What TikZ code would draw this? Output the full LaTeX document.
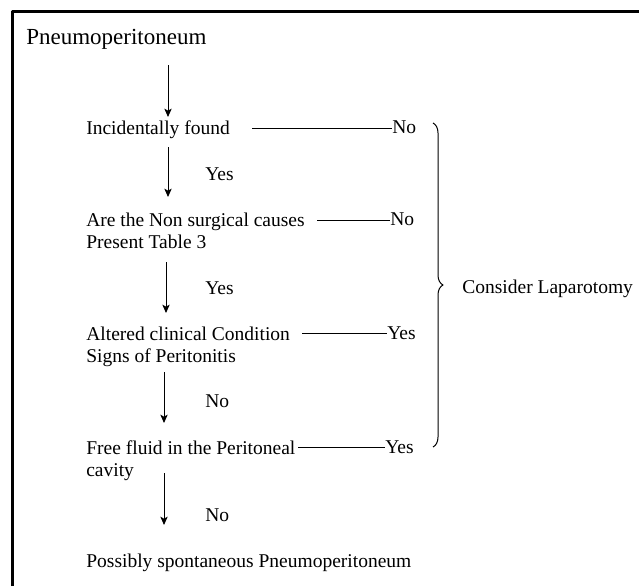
\documentclass[tikz,border=0pt]{standalone}
\usepackage{fontspec}
\setmainfont{Liberation Serif}
\usetikzlibrary{arrows.meta,decorations.pathreplacing}
\begin{document}
\begin{tikzpicture}[x=0.6pt, y=-0.6pt, font=\fontsize{11.7}{13.2}\selectfont, line join=round, >={Stealth[length=5pt,width=4.4pt,inset=1.2pt]}]
	\tikzset{txt/.style={anchor=base west, inner sep=0pt, align=left},
		flow/.style={->, line width=0.6pt},
		link/.style={line width=0.6pt}}
	\useasboundingbox (0,0) rectangle (639,586);
	\draw[line width=1.6pt] (12.8,586) -- (12.8,11.5) -- (639,11.5);
	% steps (two-line nodes sit on their last baseline)
	\node[txt, font=\fontsize{13.8}{16}\selectfont] (pneumo) at (26,44) {Pneumoperitoneum};
	\node[txt] (found) at (86,134) {Incidentally found};
	\node[txt] (causes) at (86,248) {Are the Non surgical causes\\Present Table 3};
	\node[txt] (altered) at (86,362) {Altered clinical Condition\\Signs of Peritonitis};
	\node[txt] (fluid) at (86,476) {Free fluid in the Peritoneal\\cavity};
	\node[txt] (spont) at (86,567) {Possibly spontaneous Pneumoperitoneum};
	% answers on the right
	\node[txt] (no1) at (392,133) {No};
	\node[txt] (no2) at (390,225) {No};
	\node[txt] (yes3) at (387,339) {Yes};
	\node[txt] (yes4) at (385,453) {Yes};
	\node[txt] (lap) at (462,293) {Consider Laparotomy};
	% answers on the arrows
	\node[txt] (yes1) at (205,180) {Yes};
	\node[txt] (yes2) at (205,294) {Yes};
	\node[txt] (no3) at (205,407) {No};
	\node[txt] (no4) at (205,521) {No};
	% arrow ends
	\coordinate (a1) at (168,65);  \coordinate (b1) at (168,117);
	\coordinate (a2) at (168,147); \coordinate (b2) at (168,197);
	\coordinate (a3) at (166,262); \coordinate (b3) at (166,313);
	\coordinate (a4) at (164,372); \coordinate (b4) at (164,423);
	\coordinate (a5) at (164,473); \coordinate (b5) at (164,525);
	\foreach \i in {1,...,5}
		\draw[flow] (a\i) -- (b\i);
	% lines to the answers
	\coordinate (l1) at (252,128);
	\coordinate (l2) at (317,220);
	\coordinate (l3) at (302,333);
	\coordinate (l4) at (298,447);
	\draw[link] (l1) -- (l1 -| no1.west);
	\draw[link] (l2) -- (l2 -| no2.west);
	\draw[link] (l3) -- (l3 -| yes3.west);
	\draw[link] (l4) -- (l4 -| yes4.west);
	% brace
	\coordinate (bt) at (433,123);
	\coordinate (bb) at (433,447);
	\draw[line width=0.6pt, decorate, decoration={brace, amplitude=6pt}] (bt) -- (bb);
\end{tikzpicture}
\end{document}
